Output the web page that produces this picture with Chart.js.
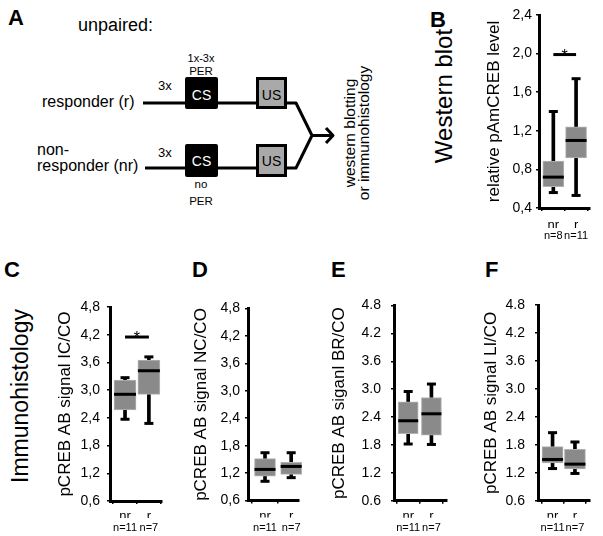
<!DOCTYPE html>
<html>
  <head>
    <meta charset="UTF-8" />
    <script src="https://cdn.jsdelivr.net/npm/chart.js"></script>
    <style>
      body { margin: 0; background: #fff; font-family: "Liberation Sans", Arial, sans-serif; }
      #fig { position: relative; width: 603px; height: 536px; overflow: hidden; background: #fff; }
      .letter { position: absolute; font-weight: bold; font-size: 22px; line-height: 1; }
      .rot { position: absolute; transform: translate(-50%, -50%) rotate(-90deg); white-space: nowrap; text-align: center; }
      canvas { position: absolute; }
      svg text { font-family: "Liberation Sans", Arial, sans-serif; }
    </style>
  </head>
  <body>
    <div id="fig">
      <!-- panel A: protocol sketch -->
      <svg width="400" height="260" style="position:absolute;left:0;top:0">
        <text x="78" y="31" font-size="18">unpaired:</text>
        <text x="201" y="62" font-size="11" text-anchor="middle">1x-3x</text>
        <text x="201" y="75" font-size="11.5" text-anchor="middle">PER</text>
        <text x="158" y="90" font-size="13">3x</text>
        <text x="42" y="107" font-size="16">responder (r)</text>
        <g stroke="#000" stroke-width="3" fill="none" stroke-linejoin="round">
          <line x1="143" y1="103" x2="186" y2="103" />
          <line x1="217" y1="103" x2="257" y2="103" />
          <polyline points="286,103 296,103 312,135.5 296,168 286,168" />
          <line x1="145" y1="168" x2="186" y2="168" />
          <line x1="217" y1="168" x2="257" y2="168" />
          <line x1="312" y1="135.5" x2="333" y2="135.5" />
          <polyline points="326,128 333,135.5 326,143" />
        </g>
        <rect x="185" y="77" width="33" height="32" rx="2" fill="#000" />
        <text x="201.5" y="100" font-size="14" fill="#fff" text-anchor="middle">CS</text>
        <rect x="257.5" y="78.5" width="28" height="29" fill="#a9a9a9" stroke="#000" stroke-width="3" />
        <text x="271.5" y="100" font-size="14" text-anchor="middle">US</text>

        <text x="37" y="155" font-size="16">non-</text>
        <text x="37" y="171" font-size="16">responder (nr)</text>
        <text x="158" y="157" font-size="13">3x</text>
        <rect x="185" y="144" width="33" height="33" rx="2" fill="#000" />
        <text x="201.5" y="166" font-size="14" fill="#fff" text-anchor="middle">CS</text>
        <rect x="257.5" y="145.5" width="28" height="30" fill="#a9a9a9" stroke="#000" stroke-width="3" />
        <text x="271.5" y="166" font-size="14" text-anchor="middle">US</text>
        <text x="201" y="188" font-size="11.5" text-anchor="middle">no</text>
        <text x="201" y="205" font-size="11.5" text-anchor="middle">PER</text>
      </svg>
      <div class="rot" style="left:356px;top:133px;font-size:15.5px;line-height:13.5px">western blotting<br />or immunohistology</div>

      <div class="letter" style="left:8px;top:7px">A</div>
      <div class="letter" style="left:430px;top:9px">B</div>
      <div class="letter" style="left:4px;top:259px">C</div>
      <div class="letter" style="left:192px;top:259px">D</div>
      <div class="letter" style="left:331px;top:259px">E</div>
      <div class="letter" style="left:485px;top:259px">F</div>

      <div class="rot" style="left:444px;top:96px;font-size:24px">Western blot</div>
      <div class="rot" style="left:20px;top:396px;font-size:23px">Immunohistology</div>

      <canvas id="chartB"></canvas>
      <canvas id="chartC"></canvas>
      <canvas id="chartD"></canvas>
      <canvas id="chartE"></canvas>
      <canvas id="chartF"></canvas>
    </div>

    <script>
      const groups = ["nr", "r"];
      const nWestern = ["n=8", "n=11"];
      const nHisto = ["n=11", "n=7"];

      // B: western blot, relative pAmCREB level
      const wbMin = [0.56, 0.53];
      const wbQ1 = [0.62, 0.92];
      const wbMedian = [0.72, 1.1];
      const wbQ3 = [0.885, 1.24];
      const wbMax = [1.4, 1.74];
      const wbSig = 1.99;

      // C: IC/CO
      const icMin = [2.37, 2.28];
      const icQ1 = [2.57, 2.91];
      const icMedian = [2.91, 3.42];
      const icQ3 = [3.22, 3.65];
      const icMax = [3.27, 3.72];
      const icSig = 4.15;

      // D: NC/CO
      const ncMin = [1.02, 1.1];
      const ncQ1 = [1.13, 1.17];
      const ncMedian = [1.28, 1.345];
      const ncQ3 = [1.515, 1.435];
      const ncMax = [1.645, 1.645];

      // E: BR/CO
      const brMin = [1.82, 1.81];
      const brQ1 = [2.04, 2.01];
      const brMedian = [2.32, 2.47];
      const brQ3 = [2.73, 2.82];
      const brMax = [2.95, 3.11];

      // F: LI/CO
      const liMin = [1.29, 1.185];
      const liQ1 = [1.41, 1.28];
      const liMedian = [1.485, 1.385];
      const liQ3 = [1.76, 1.7];
      const liMax = [2.06, 1.86];

      const wbTicks = [0.4, 0.8, 1.2, 1.6, 2.0, 2.4];
      const wbTickLabels = ["0,4", "0,8", "1,2", "1,6", "2,0", "2,4"];
      const ihTicks = [0.6, 1.2, 1.8, 2.4, 3.0, 3.6, 4.2, 4.8];
      const ihTickLabelsComma = ["0,6", "1,2", "1,8", "2,4", "3,0", "3,6", "4,2", "4,8"];
      const ihTickLabelsDot = ["0.6", "1.2", "1.8", "2.4", "3.0", "3.6", "4.2", "4.8"];

      const boxFill = "#8a8a8a";
      const boxEdge = "#b3b3b3";

      Chart.defaults.font.family = '"Liberation Sans", Arial, sans-serif';
      Chart.defaults.color = "#000";

      const starPlugin = {
        id: "star",
        afterDatasetsDraw(chart, args, opts) {
          if (opts.y == null) return;
          const { ctx } = chart;
          const x = chart.scales.x;
          const y = chart.scales.y;
          const cx = (x.getPixelForValue(0) + x.getPixelForValue(1)) / 2;
          const cy = y.getPixelForValue(opts.y);
          ctx.save();
          ctx.font = '16px "Liberation Sans", Arial';
          ctx.textAlign = "center";
          ctx.fillStyle = "#000";
          ctx.fillText("*", cx, cy + 6);
          ctx.restore();
        },
      };

      const pts = (arr) => arr.map((v, i) => ({ x: i, y: v }));
      const range = (a, b) => a.map((v, i) => ({ x: i, y: [v, b[i]] }));

      function boxChart(id, s, f) {
        const cv = document.getElementById(id);
        cv.width = f.w;
        cv.height = f.h;
        cv.style.left = f.x + "px";
        cv.style.top = f.y + "px";
        const a = f.area;

        const datasets = [
          { type: "bar", data: range(s.min, s.max), backgroundColor: "#000", barThickness: 3, grouped: false, order: 3, clip: false },
          { type: "bar", data: range(s.q1, s.q3), backgroundColor: boxFill, borderColor: boxEdge, borderWidth: 1, borderSkipped: false, barThickness: f.box, grouped: false, order: 2, clip: false },
          { type: "line", data: pts(s.median), showLine: false, pointStyle: "line", pointRadius: f.box / 2, pointBorderWidth: 3, pointBorderColor: "#000", order: 1, clip: false },
          { type: "line", data: pts(s.min).concat(pts(s.max)), showLine: false, pointStyle: "line", pointRadius: 4.5, pointBorderWidth: 3, pointBorderColor: "#000", order: 1, clip: false },
        ];
        if (s.sig != null) {
          datasets.push({ type: "line", data: pts([s.sig, s.sig]), borderColor: "#000", borderWidth: 3, pointRadius: 0, order: 1, clip: false });
        }

        const catTicks = (sc) => { sc.ticks = groups.map((g, i) => ({ value: i })); };

        return new Chart(cv, {
          type: "bar",
          data: { datasets },
          plugins: [starPlugin],
          options: {
            responsive: false,
            animation: false,
            events: [],
            layout: {
              padding: {
                left: 0,
                top: a.top - f.y,
                right: f.x + f.w - a.right,
                bottom: f.y + f.h - a.bottom - f.xH - 16,
              },
            },
            plugins: { legend: { display: false }, tooltip: { enabled: false }, star: { y: s.sig } },
            scales: {
              x: {
                type: "linear", min: f.xmin, max: f.xmax, offset: false,
                afterBuildTicks: catTicks,
                afterFit: (sc) => { sc.height = f.xH; },
                ticks: { callback: (v) => groups[v], font: { size: 13 }, padding: f.xPad, maxRotation: 0, autoSkip: false },
                grid: { drawOnChartArea: false, tickLength: 3, color: "#000", lineWidth: 1.5 },
                border: { color: "#000", width: 3 },
              },
              x2: {
                type: "linear", position: "bottom", min: f.xmin, max: f.xmax, offset: false,
                afterBuildTicks: catTicks,
                afterFit: (sc) => { sc.height = 16; },
                ticks: { callback: (v) => s.n[v], font: { size: 11 }, padding: f.x2Pad, maxRotation: 0, autoSkip: false },
                grid: { display: false, drawTicks: false, tickLength: 0 },
                border: { display: false },
              },
              y: {
                min: s.ticks[0], max: s.ticks[s.ticks.length - 1],
                afterBuildTicks: (sc) => { sc.ticks = s.ticks.map((v) => ({ value: v })); },
                afterFit: (sc) => { sc.width = a.left - f.x; },
                ticks: { callback: (v, i) => s.labels[i], font: { size: 14 }, padding: f.yPad, autoSkip: false },
                title: { display: true, text: s.title, font: { size: 17 }, padding: { top: 4, bottom: 4 } },
                grid: { drawOnChartArea: false, tickLength: 3, color: "#000", lineWidth: 1.5 },
                border: { color: "#000", width: 3 },
              },
            },
          },
        });
      }

      boxChart("chartB",
        { min: wbMin, q1: wbQ1, median: wbMedian, q3: wbQ3, max: wbMax, sig: wbSig, n: nWestern, ticks: wbTicks, labels: wbTickLabels, title: "relative pAmCREB level" },
        { x: 480, y: 0, w: 123, h: 248, area: { left: 539, top: 15, right: 599, bottom: 208 }, xmin: -0.63, xmax: 1.59, box: 21, yPad: 4, xPad: 7, xH: 20, x2Pad: 1 });

      boxChart("chartC",
        { min: icMin, q1: icQ1, median: icMedian, q3: icQ3, max: icMax, sig: icSig, n: nHisto, ticks: ihTicks, labels: ihTickLabelsComma, title: "pCREB AB signal IC/CO" },
        { x: 51, y: 285, w: 125, h: 251, area: { left: 110, top: 307, right: 169, bottom: 501 }, xmin: -0.63, xmax: 1.55, box: 22, yPad: 7, xPad: 5, xH: 17, x2Pad: 3.5 });

      boxChart("chartD",
        { min: ncMin, q1: ncQ1, median: ncMedian, q3: ncQ3, max: ncMax, n: nHisto, ticks: ihTicks, labels: ihTickLabelsComma, title: "pCREB AB signal NC/CO" },
        { x: 187, y: 285, w: 125, h: 251, area: { left: 248, top: 308.5, right: 300, bottom: 500.5 }, xmin: -0.65, xmax: 1.28, box: 21, yPad: 5, xPad: 5, xH: 17, x2Pad: 3.5 });

      boxChart("chartE",
        { min: brMin, q1: brQ1, median: brMedian, q3: brQ3, max: brMax, n: nHisto, ticks: ihTicks, labels: ihTickLabelsDot, title: "pCREB AB siganl BR/CO" },
        { x: 325, y: 285, w: 135, h: 251, area: { left: 394, top: 305.5, right: 452, bottom: 500.7 }, xmin: -0.61, xmax: 1.67, box: 20, yPad: 10, xPad: 5, xH: 17, x2Pad: 3.5 });

      boxChart("chartF",
        { min: liMin, q1: liQ1, median: liMedian, q3: liQ3, max: liMax, n: nHisto, ticks: ihTicks, labels: ihTickLabelsDot, title: "pCREB AB signal LI/CO" },
        { x: 477, y: 285, w: 126, h: 251, area: { left: 538, top: 305, right: 600, bottom: 500.7 }, xmin: -0.65, xmax: 1.65, box: 21, yPad: 10, xPad: 5, xH: 17, x2Pad: 3.5 });
    </script>
  </body>
</html>
